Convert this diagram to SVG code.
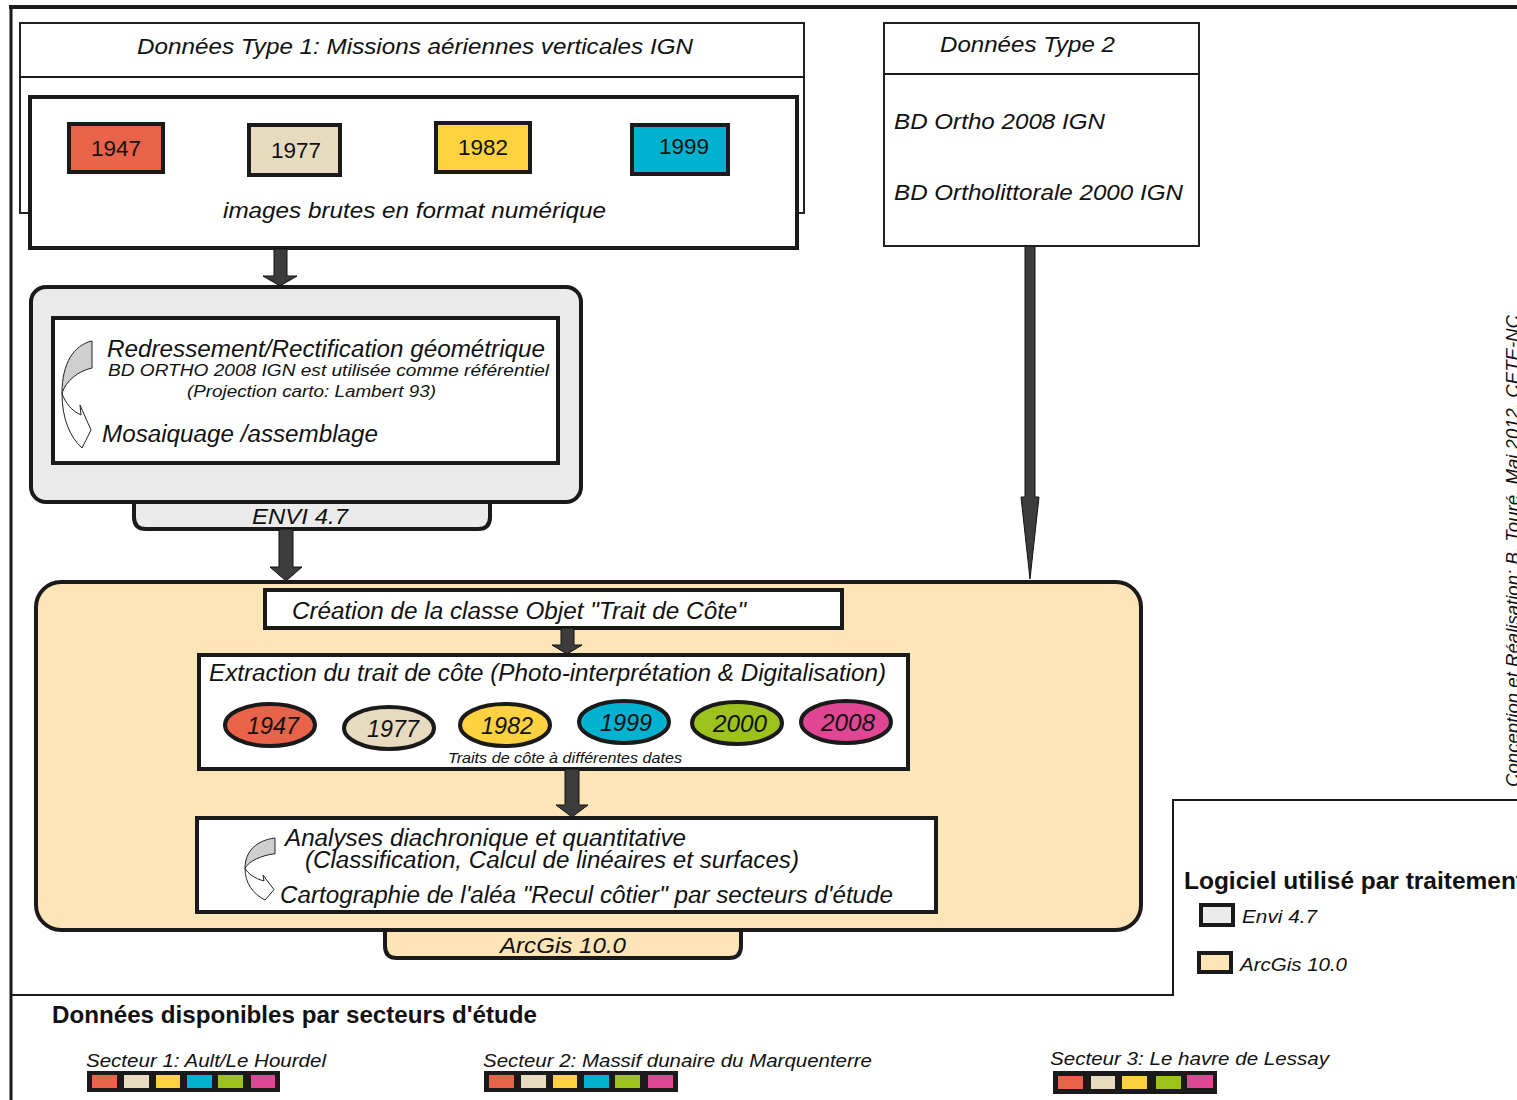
<svg xmlns="http://www.w3.org/2000/svg" width="1517" height="1100" viewBox="0 0 1517 1100">
<style>
text{font-family:"Liberation Sans",Arial,sans-serif;fill:#111}
.it{font-style:italic}
.b{font-weight:bold}
.thin{fill:#fff;stroke:#222;stroke-width:2}
.thick{fill:#fff;stroke:#1a1a1a;stroke-width:4}
.envi{fill:#ebebeb;stroke:#1a1a1a;stroke-width:4}
.arc{fill:#fde5b8;stroke:#1a1a1a;stroke-width:4}
.arrow{fill:#3c3c3c;stroke:#111;stroke-width:1}
.frame{stroke:#1a1a1a;fill:none}
.sq{stroke:#1a1a1a;stroke-width:4}
.ov{stroke:#1a1a1a;stroke-width:4}
.c1{fill:#e8634a}.c2{fill:#e6dbbf}.c3{fill:#fdd13f}.c4{fill:#00b2d0}.c5{fill:#9dc11d}.c6{fill:#e14694}
</style>
<defs>
<g id="curl">
<path d="M30,0 C12,4 0,22 0,52 C4,40 16,30 30,27 Z" fill="#cfcfcf" stroke="#222" stroke-width="1" vector-effect="non-scaling-stroke"/>
<path d="M0,52 C0,78 8,96 20,107 L29,89 L18,64 L19,74 C10,70 3,62 0,52 Z" fill="#fff" stroke="#222" stroke-width="1" vector-effect="non-scaling-stroke"/>
</g>
</defs>
<rect width="1517" height="1100" fill="#fff"/>
<g id="frame">
<line class="frame" x1="9" y1="7" x2="1517" y2="7" stroke-width="4"/>
<line class="frame" x1="11" y1="5" x2="11" y2="1100" stroke-width="3"/>
<line class="frame" x1="11" y1="995" x2="1174" y2="995" stroke-width="2"/>
<line class="frame" x1="1173" y1="800" x2="1173" y2="996" stroke-width="2"/>
<line class="frame" x1="1172" y1="800" x2="1517" y2="800" stroke-width="2"/>
</g>
<g id="type1">
<rect class="thin" x="20" y="23" width="784" height="190"/>
<line class="frame" x1="20" y1="77" x2="804" y2="77" stroke-width="2"/>
<text class="it" x="137" y="54" font-size="22" textLength="556" lengthAdjust="spacingAndGlyphs">Données Type 1: Missions aériennes verticales IGN</text>
<rect class="thick" x="30" y="97" width="767" height="151"/>
<rect class="sq c1" x="69" y="124" width="94" height="48"/>
<text x="116" y="156" font-size="22" text-anchor="middle" textLength="50" lengthAdjust="spacingAndGlyphs">1947</text>
<rect class="sq c2" x="249" y="125" width="91" height="50"/>
<text x="296" y="158" font-size="22" text-anchor="middle" textLength="50" lengthAdjust="spacingAndGlyphs">1977</text>
<rect class="sq c3" x="436" y="123" width="94" height="49"/>
<text x="483" y="155" font-size="22" text-anchor="middle" textLength="50" lengthAdjust="spacingAndGlyphs">1982</text>
<rect class="sq c4" x="632" y="125" width="96" height="49"/>
<text x="684" y="154" font-size="22" text-anchor="middle" textLength="50" lengthAdjust="spacingAndGlyphs">1999</text>
<text class="it" x="223" y="218" font-size="22" textLength="383" lengthAdjust="spacingAndGlyphs">images brutes en format numérique</text>
</g>
<g id="type2">
<rect class="thin" x="884" y="23" width="315" height="223"/>
<line class="frame" x1="884" y1="74" x2="1199" y2="74" stroke-width="2"/>
<text class="it" x="940" y="52" font-size="22" textLength="175" lengthAdjust="spacingAndGlyphs">Données Type 2</text>
<text class="it" x="894" y="129" font-size="22" textLength="211" lengthAdjust="spacingAndGlyphs">BD Ortho 2008 IGN</text>
<text class="it" x="894" y="200" font-size="22" textLength="289" lengthAdjust="spacingAndGlyphs">BD Ortholittorale 2000 IGN</text>
</g>
<g id="envi">
<path class="envi" d="M134,495 L134,517 Q134,529 146,529 L478,529 Q490,529 490,517 L490,495 Z"/>
<rect class="envi" x="31" y="287" width="550" height="215" rx="15"/>
<text class="it" x="252" y="524" font-size="22" textLength="96" lengthAdjust="spacingAndGlyphs">ENVI 4.7</text>
<rect class="thick" x="53" y="318" width="505" height="145"/>
<use href="#curl" transform="translate(62,341)"/>
<text class="it" x="107" y="357" font-size="23" textLength="438" lengthAdjust="spacingAndGlyphs">Redressement/Rectification géométrique</text>
<text class="it" x="108" y="376" font-size="17" textLength="441" lengthAdjust="spacingAndGlyphs">BD ORTHO 2008 IGN  est utilisée comme référentiel</text>
<text class="it" x="187" y="397" font-size="17" textLength="249" lengthAdjust="spacingAndGlyphs">(Projection carto: Lambert 93)</text>
<text class="it" x="102" y="442" font-size="23" textLength="276" lengthAdjust="spacingAndGlyphs">Mosaiquage /assemblage</text>
</g>
<g id="arcgis">
<path class="arc" d="M385,920 L385,946 Q385,958 397,958 L729,958 Q741,958 741,946 L741,920 Z"/>
<rect class="arc" x="36" y="582" width="1105" height="348" rx="25"/>
<text class="it" x="500" y="953" font-size="22" textLength="126" lengthAdjust="spacingAndGlyphs">ArcGis 10.0</text>
</g>
<g id="creation">
<rect class="thick" x="265" y="590" width="577" height="38"/>
<text class="it" x="292" y="619" font-size="23" textLength="454" lengthAdjust="spacingAndGlyphs">Création de la classe Objet "Trait de Côte"</text>
</g>
<g id="extraction">
<rect class="thick" x="199" y="655" width="709" height="114"/>
<text class="it" x="209" y="681" font-size="23" textLength="677" lengthAdjust="spacingAndGlyphs">Extraction du trait de côte (Photo-interprétation &amp; Digitalisation)</text>
<ellipse class="ov c1" cx="270" cy="725" rx="45" ry="21"/>
<text class="it" x="273" y="734" font-size="23" text-anchor="middle" textLength="52" lengthAdjust="spacingAndGlyphs">1947</text>
<ellipse class="ov c2" cx="389" cy="728" rx="45" ry="21"/>
<text class="it" x="393" y="737" font-size="23" text-anchor="middle" textLength="52" lengthAdjust="spacingAndGlyphs">1977</text>
<ellipse class="ov c3" cx="505" cy="725" rx="45" ry="21"/>
<text class="it" x="507" y="734" font-size="23" text-anchor="middle" textLength="52" lengthAdjust="spacingAndGlyphs">1982</text>
<ellipse class="ov c4" cx="624" cy="722" rx="45" ry="21"/>
<text class="it" x="626" y="731" font-size="23" text-anchor="middle" textLength="52" lengthAdjust="spacingAndGlyphs">1999</text>
<ellipse class="ov c5" cx="737" cy="723" rx="45" ry="21"/>
<text class="it" x="740" y="732" font-size="23" text-anchor="middle" textLength="54" lengthAdjust="spacingAndGlyphs">2000</text>
<ellipse class="ov c6" cx="846" cy="722" rx="45" ry="21"/>
<text class="it" x="848" y="731" font-size="23" text-anchor="middle" textLength="54" lengthAdjust="spacingAndGlyphs">2008</text>
<text class="it" x="448" y="763" font-size="15" textLength="234" lengthAdjust="spacingAndGlyphs">Traits de côte à différentes dates</text>
</g>
<g id="analyses">
<rect class="thick" x="197" y="818" width="739" height="94"/>
<use href="#curl" transform="translate(245,838) scale(1,0.58)"/>
<text class="it" x="285" y="846" font-size="23" textLength="401" lengthAdjust="spacingAndGlyphs">Analyses diachronique et quantitative</text>
<text class="it" x="305" y="868" font-size="23" textLength="494" lengthAdjust="spacingAndGlyphs">(Classification, Calcul de linéaires et surfaces)</text>
<text class="it" x="280" y="903" font-size="23" textLength="613" lengthAdjust="spacingAndGlyphs">Cartographie de l'aléa "Recul côtier" par secteurs d'étude</text>
</g>
<g id="connectors">
<polygon class="arrow" points="274,249 287,249 287,276 297,276 280,286 263,276 274,276"/>
<polygon class="arrow" points="279,529 293,529 293,567 302,567 286,581 270,567 279,567"/>
<polygon class="arrow" points="1025,246 1035,246 1035,497 1039,497 1030,579 1021,497 1025,497"/>
<polygon class="arrow" points="561,628 574,628 574,645 582,645 567,654 552,645 561,645"/>
<polygon class="arrow" points="565,769 579,769 579,805 588,805 572,817 556,805 565,805"/>
</g>
<g id="legend">
<text class="b" x="1184" y="889" font-size="23" textLength="340" lengthAdjust="spacingAndGlyphs">Logiciel utilisé par traitement</text>
<rect class="envi" x="1201" y="905" width="32" height="20"/>
<text class="it" x="1242" y="923" font-size="19" textLength="75" lengthAdjust="spacingAndGlyphs">Envi 4.7</text>
<rect class="arc" x="1199" y="953" width="32" height="19"/>
<text class="it" x="1240" y="971" font-size="19" textLength="107" lengthAdjust="spacingAndGlyphs">ArcGis 10.0</text>
</g>
<g id="credit">
<text class="it" transform="translate(1519,787) rotate(-90)" font-size="18" textLength="472" lengthAdjust="spacingAndGlyphs">Conception et Réalisation: B. Touré, Mai 2012, CETE-NC</text>
</g>
<g id="secteurs">
<text class="b" x="52" y="1023" font-size="23" textLength="485" lengthAdjust="spacingAndGlyphs">Données disponibles par secteurs d'étude</text>
<text class="it" x="86" y="1067" font-size="19" textLength="240" lengthAdjust="spacingAndGlyphs">Secteur 1: Ault/Le Hourdel</text>
<rect x="87" y="1071" width="193" height="21" fill="#1a1a1a"/>
<rect class="c1" x="92" y="1075" width="25" height="13"/>
<rect class="c2" x="124" y="1075" width="25" height="13"/>
<rect class="c3" x="156" y="1075" width="24" height="13"/>
<rect class="c4" x="187" y="1075" width="25" height="13"/>
<rect class="c5" x="218" y="1075" width="25" height="13"/>
<rect class="c6" x="251" y="1075" width="24" height="13"/>
<text class="it" x="483" y="1067" font-size="19" textLength="389" lengthAdjust="spacingAndGlyphs">Secteur 2: Massif dunaire du Marquenterre</text>
<rect x="484" y="1071" width="194" height="21" fill="#1a1a1a"/>
<rect class="c1" x="489" y="1075" width="25" height="13"/>
<rect class="c2" x="521" y="1075" width="25" height="13"/>
<rect class="c3" x="553" y="1075" width="24" height="13"/>
<rect class="c4" x="584" y="1075" width="25" height="13"/>
<rect class="c5" x="615" y="1075" width="25" height="13"/>
<rect class="c6" x="648" y="1075" width="25" height="13"/>
<text class="it" x="1050" y="1065" font-size="19" textLength="279" lengthAdjust="spacingAndGlyphs">Secteur 3: Le havre de Lessay</text>
<rect x="1053" y="1071" width="164" height="23" fill="#1a1a1a"/>
<rect class="c1" x="1058" y="1076" width="25" height="13"/>
<rect class="c2" x="1091" y="1076" width="24" height="13"/>
<rect class="c3" x="1122" y="1076" width="25" height="13"/>
<rect class="c5" x="1156" y="1076" width="25" height="13"/>
<rect class="c6" x="1187" y="1075" width="26" height="13"/>
</g>
</svg>
